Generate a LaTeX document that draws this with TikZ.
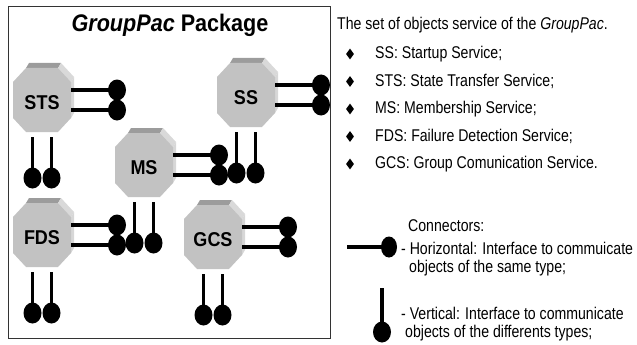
\documentclass[tikz,border=0pt]{standalone}
\usepackage{fontspec}
\setmainfont{Liberation Sans}
\newfontfamily\condsf{Liberation Sans}[FakeStretch=0.83]
\newfontfamily\condbf{Liberation Sans}[FakeStretch=0.9]
\usetikzlibrary{shapes.geometric}

\definecolor{facegray}{HTML}{C2C2C2}
\definecolor{topgray}{HTML}{9C9C9C}
\definecolor{sidegray}{HTML}{D9D9D9}

\tikzset{
  objlabel/.style={font=\condbf\bfseries\fontsize{20}{22}\selectfont,inner sep=0pt},
  ball/.style={ellipse,fill=black,inner sep=0pt,minimum width=18pt,minimum height=21pt},
  conn/.style={line width=3.6pt},
  listtext/.style={anchor=west,inner sep=0pt,font=\condsf\fontsize{17}{19}\selectfont},
  bullet/.style={diamond,fill=black,inner sep=0pt,minimum width=8pt,minimum height=11pt},
  gpobj/.pic={
    \fill[topgray]  (-16,-32) -- (16,-32) -- (19,-37) -- (-13,-37) -- cycle;
    \fill[sidegray] (16,-32) -- (29,-18) -- (32,-23) -- (19,-37) -- cycle;
    \fill[sidegray!90!facegray] (29,-18) -- (29,18) -- (32,13) -- (32,-23) -- cycle;
    \fill[facegray] (-16,-32) -- (16,-32) -- (29,-18) -- (29,18) -- (16,32)
                    -- (-16,32) -- (-29,18) -- (-29,-18) -- cycle;
    \node[objlabel] (-lbl) at (0,3) {#1};
    \coordinate (-e1) at (29,-10);
    \coordinate (-e2) at (29,10);
    \coordinate (-s1) at (-9.5,37);
    \coordinate (-s2) at (9.5,37);
    \node[ball] (-he1) at (75,-10) {};
    \node[ball] (-he2) at (75,10) {};
    \node[ball] (-vs1) at (-9.5,78) {};
    \node[ball] (-vs2) at (9.5,78) {};
    \draw[conn] (-e1) -- (-he1.center);
    \draw[conn] (-e2) -- (-he2.center);
    \draw[conn] (-s1) -- (-vs1.center);
    \draw[conn] (-s2) -- (-vs2.center);
  }
}

\begin{document}
\begin{tikzpicture}[x=1pt,y=-1pt]
  \useasboundingbox (0,0) rectangle (637,345);
  \draw[black!80,line width=1pt] (8,7) rectangle (330,338);
  \node[font=\condbf\bfseries\fontsize{24}{27}\selectfont] (title) at (170,25)
       {\textit{GroupPac} Package};
  \pic (STS) at (42,100)  {gpobj=STS};
  \pic (SS)  at (246,95)  {gpobj=SS};
  \pic (MS)  at (144,165) {gpobj=MS};
  \pic (FDS) at (42,235)  {gpobj=FDS};
  \pic (GCS) at (213,237) {gpobj=GCS};
  \node[listtext] (head) at (337,25) {The set of objects service of the \textit{GroupPac}.};
  \node[bullet] (b1) at (350,54)  {};
  \node[bullet] (b2) at (350,81.5){};
  \node[bullet] (b3) at (350,109) {};
  \node[bullet] (b4) at (350,136.5){};
  \node[bullet] (b5) at (350,164) {};
  \node[listtext] (i1) at (375,54)   {SS: Startup Service;};
  \node[listtext] (i2) at (375,81.5) {STS: State Transfer Service;};
  \node[listtext] (i3) at (375,109)  {MS: Membership Service;};
  \node[listtext] (i4) at (375,136.5){FDS: Failure Detection Service;};
  \node[listtext] (i5) at (375,164)  {GCS: Group Comunication Service.};
  \node[listtext] (conhead) at (408,226) {Connectors:};
  \node[listtext] (hortext) at (401,248) {- Horizontal: Interface to commuicate};
  \node[listtext] (hortwo)  at (409,268) {objects of the same type;};
  \node[listtext] (vertext) at (401,313) {- Vertical: Interface to communicate};
  \node[listtext] (vertwo)  at (405,333) {objects of the differents types;};
  \coordinate (horend) at (347,247);
  \node[ball,minimum width=16pt] (horball) at (389,247) {};
  \draw[conn] (horend) -- (horball.center);
  \coordinate (verend) at (382,288);
  \node[ball] (verball) at (382,332) {};
  \draw[conn] (verend) -- (verball.center);
\end{tikzpicture}
\end{document}
